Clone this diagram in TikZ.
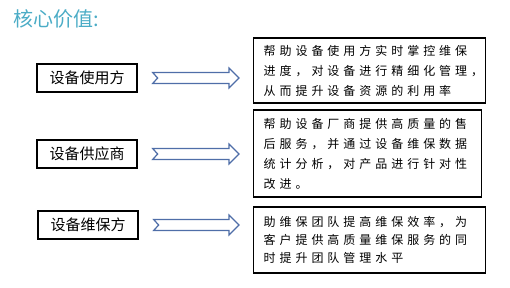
\documentclass[tikz,border=0pt]{standalone}
\usepackage{fontspec}
\newfontfamily\cjk{Noto Sans CJK SC}
\newfontfamily\cjkwide{Noto Sans CJK SC}[LetterSpace=33]
\usetikzlibrary{calc}
\definecolor{titleblue}{RGB}{75,172,198}
\definecolor{arrowblue}{RGB}{79,110,168}
\newcommand{\blockarrow}[2]{%
  \draw[blockarrow] let \p1=($(#1.east)+(11.25pt,0)$), \p2=($(#2.west)+(-10.5pt,0)$) in
    (\x1,{\y1+4.1pt}) -- ({\x2-7.5pt},{\y1+4.1pt}) -- ({\x2-7.5pt},{\y1+7.5pt}) -- (\x2,\y1)
    -- ({\x2-7.5pt},{\y1-7.5pt}) -- ({\x2-7.5pt},{\y1-4.1pt}) -- (\x1,{\y1-4.1pt})
    -- ({\x1+3.75pt},\y1) -- cycle;}
\begin{document}
\begin{tikzpicture}[x=0.75pt, y=-0.75pt,
    party/.style={draw, line width=1pt, minimum width=75pt, minimum height=21pt, inner sep=0pt,
      font=\cjk\fontsize{11.25pt}{13pt}\selectfont},
    valuebox/.style={draw, line width=1pt, align=left, anchor=west, inner xsep=7.5pt, inner ysep=0pt,
      font=\cjkwide\fontsize{9pt}{15pt}\selectfont},
    blockarrow/.style={draw=arrowblue, fill=white, line width=0.9pt, line join=miter}
]
\useasboundingbox (0,0) rectangle (510,287);
\node[anchor=west, inner sep=0pt, text=titleblue, font=\cjk\fontsize{15pt}{18pt}\selectfont] (title) at (13,19) {核心价值:};
\node[party] (user) at (87,78) {设备使用方};
\node[party] (vendor) at (87,154) {设备供应商};
\node[party] (maint) at (88,225) {设备维保方};
\node[valuebox, text width=159pt, minimum height=48.75pt] (userval) at (253,70.5)
  {帮助设备使用方实时掌控维保\\进度，对设备进行精细化管理，\\从而提升设备资源的利用率};
\node[valuebox, text width=156pt, minimum height=65.25pt] (vendorval) at (253,153.5)
  {帮助设备厂商提供高质量的售\\后服务，并通过设备维保数据\\统计分析，对产品进行针对性\\改进。};
\node[valuebox, text width=159pt, minimum height=49.5pt, font=\cjkwide\fontsize{9pt}{13.5pt}\selectfont] (maintval) at (253,240)
  {助维保团队提高维保效率，为\\客户提供高质量维保服务的同\\时提升团队管理水平};
\blockarrow{user}{userval}
\blockarrow{vendor}{vendorval}
\blockarrow{maint}{maintval}
\end{tikzpicture}
\end{document}
